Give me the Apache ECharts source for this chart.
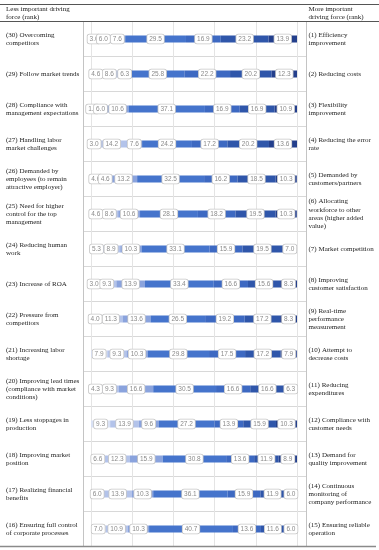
<!DOCTYPE html>
<html><head><meta charset="utf-8">
<script src="https://cdn.jsdelivr.net/npm/echarts@6/dist/echarts.min.js"></script>
<style>html,body{margin:0;padding:0;background:#fff}#c{width:379px;height:550px}</style>
</head><body><div id="c"></div>
<script>
const leftLabels = [
  "(30) Overcoming\ncompetitors",
  "(29) Follow market trends",
  "(28) Compliance with\nmanagement expectations",
  "(27) Handling labor\nmarket challenges",
  "(26) Demanded by\nemployees (to remain\nattractive employer)",
  "(25) Need for higher\ncontrol for the top\nmanagement",
  "(24) Reducing human\nwork",
  "(23) Increase of ROA",
  "(22) Pressure from\ncompetitors",
  "(21) Increasing labor\nshortage",
  "(20) Improving lead times\n(compliance with market\nconditions)",
  "(19) Less stoppages in\nproduction",
  "(18) Improving market\nposition",
  "(17) Realizing financial\nbenefits",
  "(16) Ensuring full control\nof corporate processes"
];
const rightLabels = [
  "(1) Efficiency\nimprovement",
  "(2) Reducing costs",
  "(3) Flexibility\nimprovement",
  "(4) Reducing the error\nrate",
  "(5) Demanded by\ncustomers/partners",
  "(6) Allocating\nworkforce to other\nareas (higher added\nvalue)",
  "(7) Market competition",
  "(8) Improving\ncustomer satisfaction",
  "(9) Real-time\nperformance\nmeasurement",
  "(10) Attempt to\ndecrease costs",
  "(11) Reducing\nexpenditures",
  "(12) Compliance with\ncustomer needs",
  "(13) Demand for\nquality improvement",
  "(14) Continuous\nmonitoring of\ncompany performance",
  "(15) Ensuring reliable\noperation"
];
const headerLeft = "Less important driving\nforce (rank)";
const headerRight = "More important\ndriving force (rank)";

const seg1 = [3.0, 4.6, 1.6, 3.0, 4.6, 4.6, 5.3, 3.0, 4.0, 7.9, 4.3, 9.3, 6.6, 6.0, 7.0];
const seg2 = [6.0, 8.6, 6.0, 14.2, 4.6, 8.6, 8.9, 9.3, 11.3, 9.3, 9.3, 13.9, 12.3, 13.9, 10.9];
const seg3 = [7.6, 6.3, 10.6, 7.6, 13.2, 10.6, 10.3, 13.9, 13.6, 10.3, 16.6, 9.6, 15.9, 10.3, 10.3];
const seg4 = [29.5, 25.8, 37.1, 24.2, 32.5, 28.1, 33.1, 33.4, 26.5, 29.8, 30.5, 27.2, 30.8, 36.1, 40.7];
const seg5 = [16.9, 22.2, 16.9, 17.2, 16.2, 18.2, 15.9, 16.6, 19.2, 17.5, 16.6, 13.9, 13.6, 15.9, 13.6];
const seg6 = [23.2, 20.2, 16.9, 20.2, 18.5, 19.5, 19.5, 15.6, 17.2, 17.2, 16.6, 15.9, 11.9, 11.9, 11.6];
const seg7 = [13.9, 12.3, 10.9, 13.6, 10.3, 10.3, 7.0, 8.3, 8.3, 7.9, 6.3, 10.3, 8.9, 6.0, 6.0];

const segments = [seg1, seg2, seg3, seg4, seg5, seg6, seg7];
const colors = ['#d9e1f4', '#b3c3ea', '#8aa3dd', '#4574cc', '#3d69c2', '#2f56aa', '#233f8c'];

const chart = echarts.init(document.getElementById('c'), null, {renderer: 'canvas'});
const serif = 'Liberation Serif';
const labelCommon = {fontSize: 7, fontFamily: serif, color: '#222', lineHeight: 8.3, align: 'left', interval: 0};

const option = {
  animation: false,
  backgroundColor: '#fff',
  grid: [
    {left: 83, right: 73, top: 21.5, bottom: 3.5},
    {left: 91, right: 82, top: 21.5, bottom: 3.5}
  ],
  xAxis: [
    {gridIndex: 0, type: 'value', show: false, min: 0, max: 1},
    {gridIndex: 1, type: 'value', min: 0, max: 100, interval: 20,
     axisLabel: {show: false}, axisLine: {show: false}, axisTick: {show: false},
     splitLine: {show: true, lineStyle: {color: '#e4e4e4', width: 1}}}
  ],
  yAxis: [
    {gridIndex: 0, type: 'category', data: leftLabels, inverse: true, position: 'left',
     axisLine: {show: true, lineStyle: {color: '#c4c4c4', width: 1}}, axisTick: {show: false},
     splitLine: {show: true, interval: 0, lineStyle: {color: '#d8d8d8', width: 1}},
     axisLabel: Object.assign({margin: 77}, labelCommon)},
    {gridIndex: 0, type: 'category', data: rightLabels, inverse: true, position: 'right',
     axisLine: {show: true, lineStyle: {color: '#c4c4c4', width: 1}}, axisTick: {show: false},
     splitLine: {show: false},
     axisLabel: Object.assign({margin: 2.5}, labelCommon)},
    {gridIndex: 1, type: 'category', data: leftLabels, inverse: true, show: false}
  ],
  series: segments.map((s, i) => ({
    type: 'bar',
    xAxisIndex: 1,
    yAxisIndex: 2,
    stack: 'total',
    barWidth: 7,
    data: s,
    itemStyle: {color: colors[i]},
    label: {
      show: true, position: 'inside',
      formatter: p => p.value.toFixed(1),
      fontSize: 6.5, fontFamily: 'Liberation Sans', color: '#8a8a8a',
      backgroundColor: '#fff', borderColor: '#c6c6c6', borderWidth: 0.8, borderRadius: 2,
      padding: [1, 2], lineHeight: 7
    }
  })),
  graphic: [
    {type: 'line', shape: {x1: 0, y1: 4.5, x2: 379, y2: 4.5}, style: {stroke: '#555', lineWidth: 1}, z: 100},
    {type: 'line', shape: {x1: 0, y1: 21.5, x2: 379, y2: 21.5}, style: {stroke: '#555', lineWidth: 1}, z: 100},
    {type: 'line', shape: {x1: 0, y1: 546.5, x2: 376, y2: 546.5}, style: {stroke: '#8a8a8a', lineWidth: 1.5}, z: 100},
    {type: 'text', x: 6, y: 12.9, style: {text: headerLeft, font: '7px "Liberation Serif"', fill: '#222', lineHeight: 8.3, verticalAlign: 'middle', align: 'left'}, z: 100},
    {type: 'text', x: 308.5, y: 12.9, style: {text: headerRight, font: '7px "Liberation Serif"', fill: '#222', lineHeight: 8.3, verticalAlign: 'middle', align: 'left'}, z: 100}
  ]
};
chart.setOption(option);
</script>
</body></html>
